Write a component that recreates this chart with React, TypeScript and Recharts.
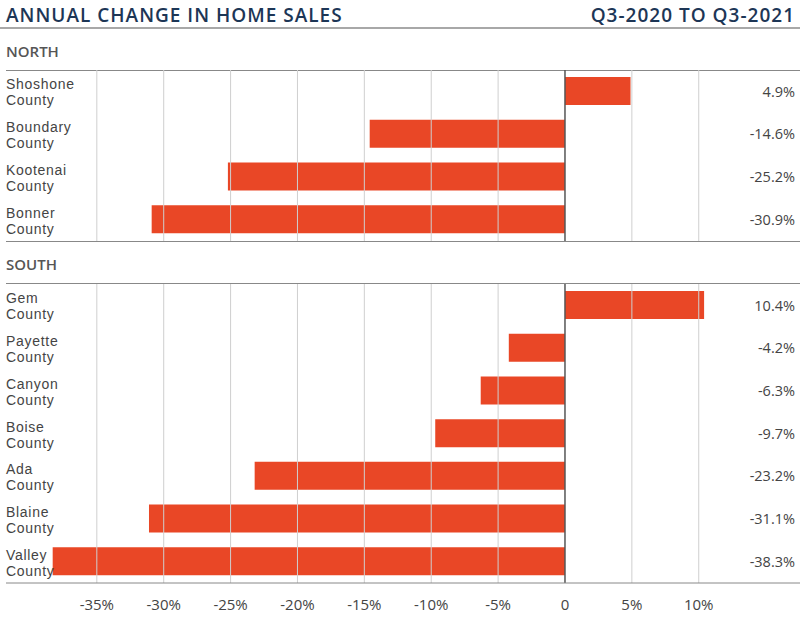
import React from "react";
import {
  Bar,
  BarChart,
  LabelList,
  ReferenceLine,
  XAxis,
  YAxis,
} from "recharts";

const northCounties = ["Shoshone County", "Boundary County", "Kootenai County", "Bonner County"];
const northChange = [4.9, -14.6, -25.2, -30.9];

const southCounties = [
  "Gem County",
  "Payette County",
  "Canyon County",
  "Boise County",
  "Ada County",
  "Blaine County",
  "Valley County",
];
const southChange = [10.4, -4.2, -6.3, -9.7, -23.2, -31.1, -38.3];

const xTicks = [-35, -30, -25, -20, -15, -10, -5, 0, 5, 10];

const FONT = "'Open Sans', 'Noto Sans', sans-serif";
const LABEL_FONT = "'Liberation Sans', Arial, sans-serif";
const NAVY = "#1d3656";
const BAR = "#e94726";
const TEXT = "#444";

const toRows = (names: string[], values: number[]) =>
  names.map((name, i) => ({ name, change: values[i] }));

const fmtPct = (v: number) => (v === 0 ? "0" : `${v}%`);

function CountyTick(props: any) {
  const { y, payload } = props;
  const [first, ...rest] = String(payload.value).split(" ");
  return (
    <g fill={TEXT} fontSize={14} fontFamily={LABEL_FONT} letterSpacing={0.7}>
      <text x={6} y={y - 2}>{first}</text>
      <text x={6} y={y + 14}>{rest.join(" ")}</text>
    </g>
  );
}

function ValueLabel(props: any) {
  const { y, height, value } = props;
  return (
    <text
      x={795}
      y={y + height / 2}
      textAnchor="end"
      dominantBaseline="central"
      fill={TEXT}
      fontSize={14.5}
      fontWeight={500}
      fontFamily={FONT}
    >
      {`${value}%`}
    </text>
  );
}

function RegionChart({
  rows,
  height,
  showAxis,
}: {
  rows: { name: string; change: number }[];
  height: number;
  showAxis: boolean;
}) {
  return (
    <BarChart
      width={800}
      height={height}
      data={rows}
      layout="vertical"
      margin={{ top: 0, right: 0, bottom: 0, left: 5 }}
      barSize={28}
    >
      {xTicks
        .filter((t) => t !== 0)
        .map((t) => (
          <ReferenceLine key={t} x={t} stroke="#cfcfcf" strokeWidth={1} />
        ))}
      <XAxis
        type="number"
        domain={[-41.79, 17.57]}
        ticks={xTicks}
        tickFormatter={fmtPct}
        hide={!showAxis}
        height={38}
        tickLine={false}
        axisLine={{ stroke: "#888" }}
        tick={{ fill: TEXT, fontSize: 15, fontFamily: FONT }}
        tickMargin={10}
      />
      <YAxis
        type="category"
        dataKey="name"
        width={1}
        axisLine={false}
        tickLine={false}
        tick={<CountyTick />}
        interval={0}
      />
      <ReferenceLine x={0} stroke="#555" strokeWidth={1.5} />
      <Bar dataKey="change" fill={BAR} isAnimationActive={false}>
        <LabelList dataKey="change" content={<ValueLabel />} />
      </Bar>
    </BarChart>
  );
}

export default function App() {
  const north = toRows(northCounties, northChange);
  const south = toRows(southCounties, southChange);

  return (
    <div
      style={{
        position: "absolute",
        left: 0,
        top: 0,
        width: 800,
        height: 621,
        background: "#fff",
        fontFamily: FONT,
        overflow: "hidden",
      }}
    >
      <div
        style={{
          position: "absolute",
          left: 6,
          top: 2,
          fontSize: 19,
          lineHeight: "26px",
          fontWeight: 600,
          letterSpacing: 1,
          color: NAVY,
        }}
      >
        ANNUAL CHANGE IN HOME SALES
      </div>
      <div
        style={{
          position: "absolute",
          right: 5,
          top: 2,
          fontSize: 19,
          lineHeight: "26px",
          fontWeight: 600,
          letterSpacing: 1,
          color: NAVY,
        }}
      >
        Q3-2020 TO Q3-2021
      </div>
      <div style={{ position: "absolute", left: 0, top: 27, width: 800, height: 2, background: "#a8a8a8" }} />

      <div
        style={{
          position: "absolute",
          left: 6,
          top: 41,
          fontSize: 15,
          lineHeight: "20px",
          fontWeight: 600,
          color: "#555",
        }}
      >
        NORTH
      </div>
      <div style={{ position: "absolute", left: 6, top: 70, width: 794, height: 1, background: "#888" }} />
      <div style={{ position: "absolute", left: 0, top: 70 }}>
        <RegionChart rows={north} height={171} showAxis={false} />
      </div>
      <div style={{ position: "absolute", left: 6, top: 241, width: 794, height: 1, background: "#888" }} />

      <div
        style={{
          position: "absolute",
          left: 6,
          top: 254,
          fontSize: 15,
          lineHeight: "20px",
          fontWeight: 600,
          color: "#555",
        }}
      >
        SOUTH
      </div>
      <div style={{ position: "absolute", left: 6, top: 283, width: 794, height: 1, background: "#888" }} />
      <div style={{ position: "absolute", left: 0, top: 284 }}>
        <RegionChart rows={south} height={299 + 38} showAxis={true} />
      </div>
    </div>
  );
}
